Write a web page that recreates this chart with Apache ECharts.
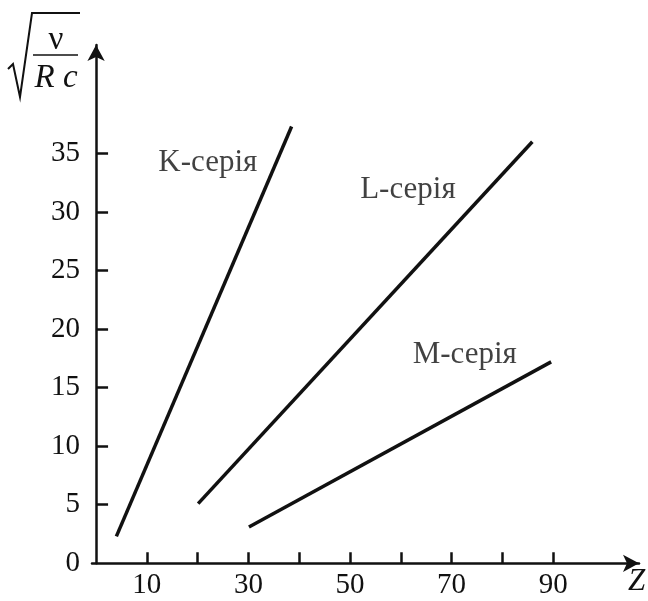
<!DOCTYPE html>
<html>
<head>
<meta charset="utf-8">
<script src="https://cdn.jsdelivr.net/npm/echarts@6/dist/echarts.min.js"></script>
<style>html,body{margin:0;padding:0;background:#fff}#c{width:648px;height:601px}</style>
</head>
<body>
<div id="c"></div>
<script>
// ---- data ----
const seriesNames = ['K-серія', 'L-серія', 'M-серія'];
const kZ = [4.0, 38.5];
const kV = [2.3, 37.3];
const lZ = [20.1, 85.9];
const lV = [5.1, 36.0];
const mZ = [30.1, 89.6];
const mV = [3.1, 17.2];
const xTickValues = [10, 20, 30, 40, 50, 60, 70, 80, 90];
const xLabelValues = [10, 30, 50, 70, 90];
const yTickValues = [5, 10, 15, 20, 25, 30, 35];
const yLabelValues = [0, 5, 10, 15, 20, 25, 30, 35];
const xName = 'Z';
// label anchor points (data coords) for series names
const labelZ = [22.0, 61.4, 72.6];
const labelV = [34.2, 31.9, 17.8];

const FONT = 'Liberation Serif';
const INK = '#111';

function pairs(xs, ys) { return xs.map((x, i) => [x, ys[i]]); }

const chart = echarts.init(document.getElementById('c'), null, {renderer: 'canvas'});
const lineStyle = {color: INK, width: 3.5};

chart.setOption({
  animation: false,
  backgroundColor: '#fff',
  textStyle: {fontFamily: FONT},
  grid: {left: 92, right: 9, top: 45, bottom: 37.7, containLabel: false},
  xAxis: {
    type: 'value', min: -0.8, max: 106.9,
    axisLine: {show: true, lineStyle: {color: INK, width: 2.5}, symbol: ['none', 'arrow'], symbolSize: [13, 16]},
    axisTick: {show: true, inside: true, length: 11, lineStyle: {color: INK, width: 2.5}, customValues: xTickValues},
    axisLabel: {show: true, customValues: xLabelValues, margin: 8, color: INK, fontFamily: FONT, fontSize: 29},
    splitLine: {show: false}
  },
  yAxis: {
    type: 'value', min: 0, max: 44.26,
    axisLine: {show: true, lineStyle: {color: INK, width: 2.5}, symbol: ['none', 'arrow'], symbolSize: [13, 16]},
    axisTick: {show: true, inside: true, length: 12, lineStyle: {color: INK, width: 2.5}, customValues: yTickValues},
    axisLabel: {show: true, customValues: yLabelValues, margin: 12, color: INK, fontFamily: FONT, fontSize: 29, padding: [7, 0, 0, 0]},
    splitLine: {show: false}
  },
  series: [
    {name: seriesNames[0], type: 'line', data: pairs(kZ, kV), symbol: 'none', lineStyle: lineStyle},
    {name: seriesNames[1], type: 'line', data: pairs(lZ, lV), symbol: 'none', lineStyle: lineStyle},
    {name: seriesNames[2], type: 'line', data: pairs(mZ, mV), symbol: 'none', lineStyle: lineStyle},
    {
      type: 'scatter', symbolSize: 0, silent: true,
      data: labelZ.map((z, i) => ({value: [z, labelV[i]], name: seriesNames[i]})),
      label: {show: true, position: 'inside', formatter: p => p.name, color: INK, fontFamily: FONT, fontSize: 31}
    }
  ],
  graphic: [
    {type: 'text', left: 628, top: 566, style: {text: xName, font: 'italic 31px Liberation Serif', fill: INK}},
    {type: 'polyline', shape: {points: [[8, 69], [13, 64], [20, 97], [32, 13], [80, 13]]}, style: {stroke: INK, lineWidth: 2, fill: null}},
    {type: 'line', shape: {x1: 33, y1: 55, x2: 78, y2: 55}, style: {stroke: INK, lineWidth: 1.6}},
    {type: 'text', x: 56, y: 40, style: {text: 'ν', font: '33px Liberation Serif', fill: INK, align: 'center', verticalAlign: 'middle'}},
    {type: 'text', x: 56, y: 78, style: {text: 'R c', font: 'italic 33px Liberation Serif', fill: INK, align: 'center', verticalAlign: 'middle'}}
  ]
});
</script>
</body>
</html>
